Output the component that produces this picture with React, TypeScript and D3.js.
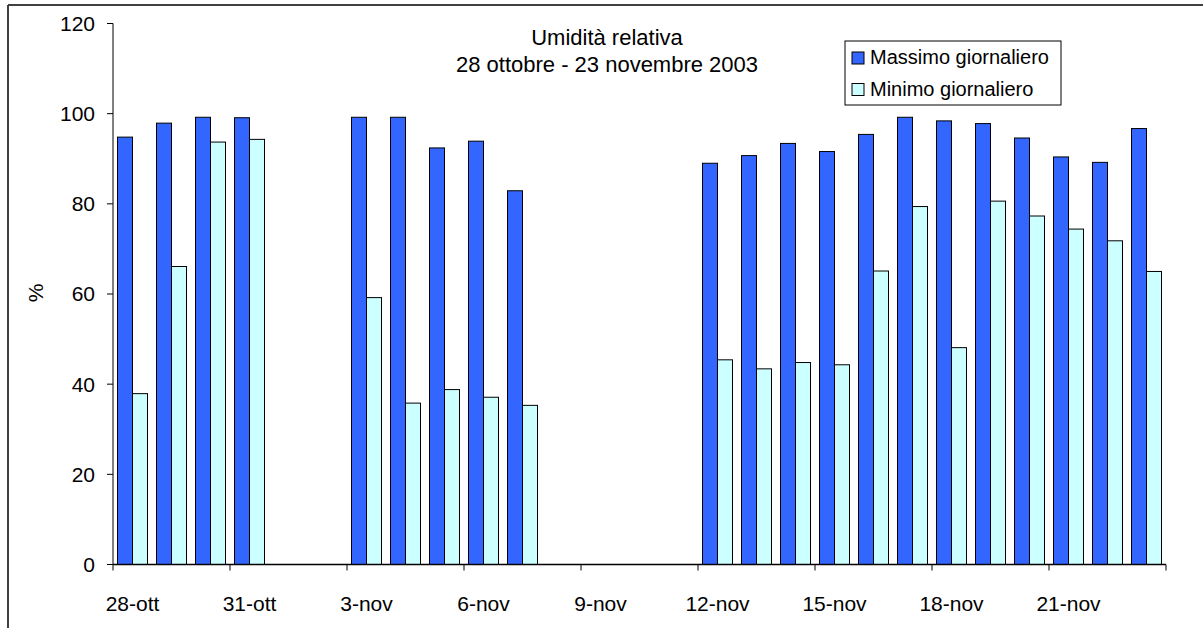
import React from "react";
import * as d3 from "d3";

const categories: string[] = [
  "28-ott", "29-ott", "30-ott", "31-ott",
  "1-nov", "2-nov", "3-nov", "4-nov", "5-nov", "6-nov", "7-nov", "8-nov", "9-nov",
  "10-nov", "11-nov", "12-nov", "13-nov", "14-nov", "15-nov", "16-nov", "17-nov",
  "18-nov", "19-nov", "20-nov", "21-nov", "22-nov", "23-nov",
];

const massimo: (number | null)[] = [
  94.8, 97.9, 99.2, 99.1,
  null, null, 99.2, 99.2, 92.4, 93.9, 82.9, null, null,
  null, null, 89.0, 90.7, 93.4, 91.6, 95.4, 99.2,
  98.4, 97.8, 94.6, 90.4, 89.2, 96.7,
];

const minimo: (number | null)[] = [
  37.9, 66.1, 93.7, 94.3,
  null, null, 59.2, 35.8, 38.8, 37.1, 35.3, null, null,
  null, null, 45.4, 43.4, 44.8, 44.3, 65.1, 79.4,
  48.1, 80.6, 77.3, 74.4, 71.8, 65.0,
];

const yTicks: number[] = [0, 20, 40, 60, 80, 100, 120];
const seriesNames: string[] = ["Massimo giornaliero", "Minimo giornaliero"];
const seriesColors: string[] = ["#3366FF", "#CCFFFF"];
const titleLines: string[] = ["Umidità relativa", "28 ottobre - 23 novembre 2003"];
const yLabel = "%";

const W = 1203;
const H = 628;
const FONT = "Arial, 'Liberation Sans', sans-serif";

export default function App() {
  const plotLeft = 113;
  const plotRight = 1166;
  const plotTop = 23.5;
  const plotBottom = 564.5;

  const x = d3.scaleBand<string>().domain(categories).range([plotLeft, plotRight]).paddingInner(0).paddingOuter(0);
  const y = d3.scaleLinear().domain([0, 120]).range([plotBottom, plotTop]);
  const bw = x.bandwidth();
  const barW = bw / 2.6;
  const sub = d3.scaleBand<number>().domain([0, 1]).range([0, barW * 2]).padding(0);

  const series = [massimo, minimo];

  const tickIdx = categories.map((_, i) => i).filter((i) => i % 3 === 0);

  return (
    <svg width={W} height={H} style={{ position: "absolute", left: 0, top: 0, background: "#fff" }} fontFamily={FONT}>
      <rect x={0} y={0} width={W} height={H} fill="#fff" />
      {/* outer chart border */}
      <line x1={8} y1={5} x2={W} y2={5} stroke="#404040" strokeWidth={2} />
      <line x1={8} y1={5} x2={8} y2={H} stroke="#404040" strokeWidth={2} />

      {/* bars */}
      {series.map((vals, s) => (
        <g key={s}>
          {vals.map((v, i) =>
            v == null ? null : (
              <rect
                key={i}
                x={(x(categories[i]) as number) + (bw - barW * 2) / 2 + (sub(s) as number)}
                y={y(v)}
                width={barW}
                height={y(0) - y(v)}
                fill={seriesColors[s]}
                stroke="#000"
                strokeWidth={1}
              />
            )
          )}
        </g>
      ))}

      {/* y axis */}
      <line x1={plotLeft} y1={plotTop} x2={plotLeft} y2={plotBottom} stroke="#000" strokeWidth={1} />
      {yTicks.map((t) => (
        <g key={t}>
          <line x1={plotLeft - 6} x2={plotLeft} y1={y(t)} y2={y(t)} stroke="#000" />
          <text x={95} y={y(t)} dy="0.35em" textAnchor="end" fontSize={21} fill="#000">
            {t}
          </text>
        </g>
      ))}
      <text transform={`translate(43,293) rotate(-90)`} textAnchor="middle" fontSize={21} fill="#000">
        {yLabel}
      </text>

      {/* x axis */}
      <line x1={plotLeft} y1={plotBottom} x2={plotRight} y2={plotBottom} stroke="#000" strokeWidth={1.5} />
      {[...tickIdx, categories.length].map((i) => {
        const xx = i < categories.length ? (x(categories[i]) as number) : plotRight;
        return <line key={"t" + i} x1={xx} x2={xx} y1={plotBottom} y2={plotBottom + 6} stroke="#000" />;
      })}
      {tickIdx.map((i) => (
        <text
          key={"l" + i}
          x={(x(categories[i]) as number) + bw / 2}
          y={611}
          textAnchor="middle"
          fontSize={21}
          fill="#000"
        >
          {categories[i]}
        </text>
      ))}

      {/* title */}
      <text x={607} y={45} textAnchor="middle" fontSize={22} fill="#000">
        {titleLines[0]}
      </text>
      <text x={607} y={72} textAnchor="middle" fontSize={22} fill="#000">
        {titleLines[1]}
      </text>

      {/* legend */}
      <rect x={845} y={41} width={216} height={64} fill="#fff" stroke="#000" strokeWidth={1} />
      {seriesNames.map((n, i) => (
        <g key={n} transform={`translate(852,${52 + i * 31.5})`}>
          <rect x={0} y={0} width={12} height={12} fill={seriesColors[i]} stroke="#000" />
          <text x={18} y={12} fontSize={20} fill="#000">
            {n}
          </text>
        </g>
      ))}
    </svg>
  );
}
